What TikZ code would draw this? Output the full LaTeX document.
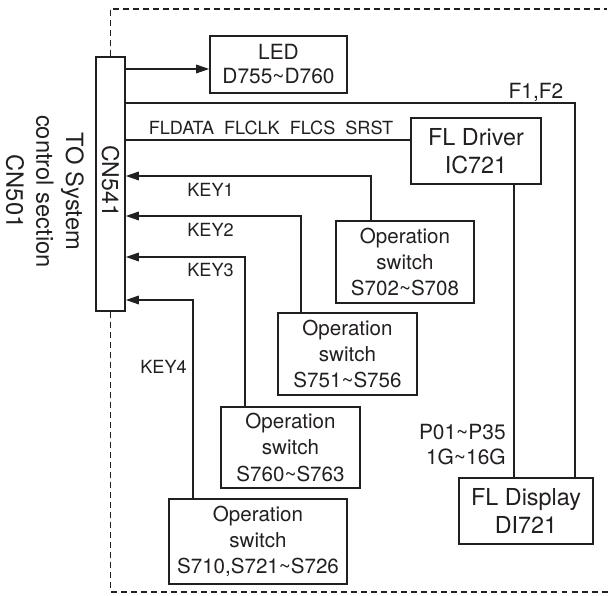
\documentclass[tikz,border=0pt]{standalone}
\usepackage{fontspec}
\setmainfont{TeX Gyre Heros}
\usepackage{tikz}
\usetikzlibrary{positioning,arrows.meta,calc}
\definecolor{ink}{HTML}{231F20}
\tikzset{
  lbl/.style={font=\fontsize{10.3}{12}\selectfont, text=ink, inner sep=0pt},
  sig/.style={font=\fontsize{11.9}{14.2}\selectfont, text=ink, inner sep=0pt, align=right},
}

\begin{document}
\begin{tikzpicture}[
  blk/.style={rectangle, draw=ink, line width=0.9pt, inner sep=0pt, align=center, font=\fontsize{11.7}{14.8}\selectfont, text=ink},
  big/.style={blk, font=\fontsize{13.3}{16}\selectfont},
  wire/.style={draw=ink, line width=0.9pt},
  arr/.style={wire, -{Triangle[length=0.26cm, width=0.17cm]}},
  frame/.style={draw=ink, line width=0.9pt, dash pattern=on 3.4pt off 2.3pt}]
\useasboundingbox (0,0) rectangle (12.22,11.90);
% control section side
\node[blk, minimum width=0.58cm, minimum height=5.08cm] (cn) at (2.21,8.22) {};
\node[rotate=-90, font=\fontsize{13.1}{15}\selectfont, text=ink] (cnname) at (2.21,8.28) {CN541};
\node[rotate=-90, align=center, font=\fontsize{13.5}{17}\selectfont, text=ink] (ctrl) at (0.90,8.07) {TO System\\control section\\CN501};
% blocks
\node[blk, minimum width=2.74cm, minimum height=1.14cm, font=\fontsize{11.9}{13.7}\selectfont] (led) at (5.57,10.61) {LED\\D755\textasciitilde D760};
\node[big, minimum width=2.6cm, minimum height=1.32cm] (drv) at (9.52,8.88) {FL Driver\\IC721};
\node[big, minimum width=2.68cm, minimum height=1.32cm] (disp) at (10.52,1.68) {FL Display\\DI721};
\node[blk, minimum width=2.76cm, minimum height=1.64cm] (swa) at (8.10,6.66) {Operation\\switch\\S702\textasciitilde S708};
\node[blk, minimum width=2.78cm, minimum height=1.64cm] (swb) at (6.95,4.82) {Operation\\switch\\S751\textasciitilde S756};
\node[blk, minimum width=2.78cm, minimum height=1.62cm] (swc) at (5.81,2.95) {Operation\\switch\\S760\textasciitilde S763};
\node[blk, minimum width=3.56cm, minimum height=1.70cm] (swd) at (5.16,1.07) {Operation\\switch\\S710,S721\textasciitilde S726};
% dashed frame
\coordinate (fnw) at (2.21,11.72); \coordinate (fne) at (12.14,11.72);
\coordinate (fsw) at (2.21,0.06); \coordinate (fse) at (12.20,0.06);
\draw[frame] (cn.north) -- (fnw) -- (fne);
\draw[frame] (cn.south) -- (fsw) -- (fse);
% outputs
\coordinate (ledin) at ([yshift=-0.09cm]led.west);
\draw[arr] (cn.east |- ledin) -- (ledin);
\coordinate (fcorner) at (11.50,9.84);
\draw[wire] (cn.east |- fcorner) -- (fcorner) -- (fcorner |- disp.north);
\node[sig] (flbl) at (10.72,10.06) {F1,F2};
\coordinate (busin) at ([yshift=0.22cm]drv.west);
\draw[wire] (cn.east |- busin) -- (busin);
\node[lbl] (buslbl) at (5.42,9.34) {FLDATA\ \ FLCLK\ \ FLCS\ \ SRST};
\coordinate (segout) at ([xshift=0.76cm]drv.south);
\draw[wire] (segout) -- (segout |- disp.north);
\node[sig, anchor=east] (seglbl) at (10.12,3.01) {P01\textasciitilde P35\\1G\textasciitilde 16G};
% key lines
\coordinate (k1) at (7.42,8.38);
\draw[arr] (swa.north -| k1) -- (k1) -- (cn.east |- k1);
\node[lbl] (k1lbl) at (4.21,8.10) {KEY1};
\coordinate (k2) at (6.02,7.58);
\draw[arr] (swb.north -| k2) -- (k2) -- (cn.east |- k2);
\node[lbl] (k2lbl) at (4.21,7.31) {KEY2};
\coordinate (k3) at (4.90,6.76);
\draw[arr] (swc.north -| k3) -- (k3) -- (cn.east |- k3);
\node[lbl] (k3lbl) at (4.21,6.50) {KEY3};
\coordinate (k4) at (3.86,5.90);
\draw[arr] (swd.north -| k4) -- (k4) -- (cn.east |- k4);
\node[lbl] (k4lbl) at (3.27,4.56) {KEY4};
\end{tikzpicture}
\end{document}
